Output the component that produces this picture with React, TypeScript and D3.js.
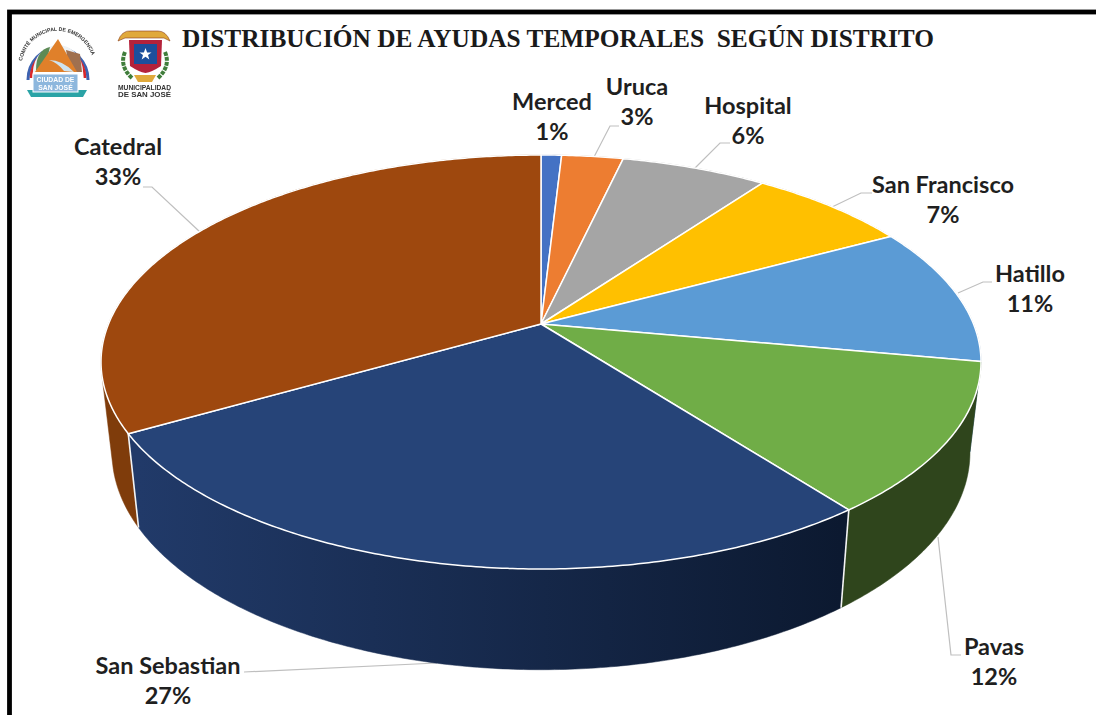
import React from "react";
import * as d3 from "d3";

const categories = ["Merced", "Uruca", "Hospital", "San Francisco", "Hatillo", "Pavas", "San Sebastian", "Catedral"];
const shares = [0.9, 2.7, 6.4, 7.1, 10.8, 11.7, 27.1, 33.3];
const topColors = ["#4472c4", "#ed7d31", "#a5a5a5", "#ffc000", "#5b9bd5", "#70ad47", "#264478", "#9e480e"];
const wallColors = ["#2a4475", "#8c4a1c", "#636363", "#997300", "#2f5f8c", "#2f451c", "url(#ssWall)", "#7f3c0b"];
const labelCenters = [[552, 110], [637, 95], [748, 114], [943, 193], [1030, 282], [994, 655], [168, 674], [118, 155]];
const leaderPaths = [
  [],
  [[594, 157], [610, 126], [619, 126]],
  [[695, 168], [720, 143], [730, 143]],
  [[832, 207], [861, 193], [872, 193]],
  [[958, 293], [983, 282], [992, 282]],
  [[938, 537], [951, 655], [961, 655]],
  [[244, 672], [437, 663]],
  [[200, 232], [152, 187], [143, 187]],
];
const title = "DISTRIBUCIÓN DE AYUDAS TEMPORALES  SEGÚN DISTRITO";

const W = 1096, H = 715;
const apexX = 541, apexY = 324;
const A = 432.5, B = 200, K = 0.1836;
const wallSx = 0.975, wallSy = 1.05, wallY = 412.5;

const project = (a: number, sx = 1, sy = 1, y0 = apexY): [number, number] => {
  const u = Math.sin(a), v = Math.cos(a), w = 1 + K * v;
  return [apexX + (sx * A * u) / w, y0 - (sy * B * v) / w];
};
const topRim = (a: number) => project(a);
const botRim = (a: number) => project(a, wallSx, wallSy, wallY);
const line = d3.line<[number, number]>().x((d) => d[0]).y((d) => d[1]);
const samples = (a0: number, a1: number) => {
  const n = Math.max(2, Math.ceil((a1 - a0) / 0.01));
  const s = d3.scaleLinear().domain([0, n]).range([a0, a1]);
  return d3.range(n + 1).map((i) => s(i));
};

const arcs = d3.pie<number>().sort(null).value((d) => d)(shares);
const sans = "Lato, Carlito, sans-serif";
const lastIndex = arcs.length - 1;
const wallOrder = [lastIndex, ...d3.range(lastIndex)];

function LogoLeft() {
  return (
    <g filter="url(#soft)">
      <defs>
        <path id="logoArc" d="M 22 62 A 36 36 0 0 1 93 60" />
      </defs>
      <text fontFamily="Liberation Sans" fontSize="5.2" fontWeight="700" fill="#333">
        <textPath href="#logoArc" startOffset="1%">COMITÉ MUNICIPAL DE EMERGENCIA</textPath>
      </text>
      <path d="M 28 80 A 30 32 0 1 1 88 80" fill="none" stroke="#3d62b0" strokeWidth="3" />
      <path d="M 31 78 A 27 29 0 1 1 85 78" fill="none" stroke="#d8262c" strokeWidth="2.6" />
      <path d="M 33 72 A 25 27 0 1 1 83 72 Z" fill="#eef2f4" />
      <path d="M 36 70 Q 36 50 50 47 L 44 72 Z" fill="#5d8a55" />
      <path d="M 66 50 L 80 54 L 82 72 L 70 72 Z" fill="#a06f50" />
      <path d="M 58 39 L 77 72 L 35 72 Z" fill="#e0802a" />
      <path d="M 49 60 Q 62 60 74 72 L 64 71 Q 58 63 49 60 Z" fill="#cfe3ef" />
      <path d="M 27 90 L 87 90 L 83 97 L 31 97 Z" fill="#2aa3a6" />
      <rect x="33" y="74" width="45" height="18" fill="#8db7dd" stroke="#fff" strokeWidth="1" />
      <text x="55.5" y="81.5" textAnchor="middle" fontFamily="Liberation Sans" fontSize="6.8" fontWeight="700" fill="#fff">CIUDAD DE</text>
      <text x="55.5" y="89.5" textAnchor="middle" fontFamily="Liberation Sans" fontSize="6.8" fontWeight="700" fill="#fff">SAN JOSÉ</text>
    </g>
  );
}

function LogoRight() {
  return (
    <g filter="url(#soft)">
      <path d="M 118 41 Q 122 30 131 31 L 158 31 Q 166 31 170 41 L 164 38 L 125 38 Z" fill="#e0a93a" stroke="#8a3b1c" strokeWidth="0.6" />
      <path d="M 129 40 L 162 40 L 161 66 Q 152 72 145.5 73 Q 139 72 130 66 Z" fill="#b4203a" />
      <path d="M 134 44 L 157 44 L 157 64 L 134 64 Z" fill="#1d4f9c" />
      <path d="M 145.5 48 L 147.1 52.4 L 151.5 52.4 L 148 55 L 149.3 59.4 L 145.5 56.8 L 141.7 59.4 L 143 55 L 139.5 52.4 L 143.9 52.4 Z" fill="#fff" />
      <path d="M 125 52 Q 119 66 132 78" fill="none" stroke="#3f7d3a" strokeWidth="4" strokeDasharray="4 1" />
      <path d="M 165 52 Q 171 66 158 78" fill="none" stroke="#3f7d3a" strokeWidth="4" strokeDasharray="4 1" />
      <path d="M 134 75 L 156 75 L 152 82 L 138 82 Z" fill="#e0a93a" />
      <text x="144.5" y="89.5" textAnchor="middle" fontFamily="Liberation Sans" fontSize="7.2" fontWeight="700" fill="#333" textLength="53" lengthAdjust="spacingAndGlyphs">MUNICIPALIDAD</text>
      <text x="144.5" y="96.5" textAnchor="middle" fontFamily="Liberation Sans" fontSize="7.2" fontWeight="700" fill="#333" textLength="53" lengthAdjust="spacingAndGlyphs">DE SAN JOSÉ</text>
    </g>
  );
}

export default function App() {
  return (
    <svg width={W} height={H} viewBox={`0 0 ${W} ${H}`} style={{ position: "absolute", left: 0, top: 0, display: "block", background: "#fff" }}>
      <defs>
        <linearGradient id="ssWall" gradientUnits="userSpaceOnUse" x1="139" x2="841" y1="0" y2="0">
          <stop offset="0" stopColor="#213a69" />
          <stop offset="1" stopColor="#0c1930" />
        </linearGradient>
        <filter id="soft" x="-10%" y="-10%" width="120%" height="120%">
          <feGaussianBlur stdDeviation="0.45" />
        </filter>
      </defs>
      <rect x="9.5" y="12" width={W + 20} height={H + 20} fill="none" stroke="#000" strokeWidth="4.8" />
      <LogoLeft />
      <LogoRight />
      <text x="182" y="47" fontFamily="'Liberation Serif', serif" fontWeight="700" fontSize="25.5" fill="#1a1a1a" textLength="752" lengthAdjust="spacingAndGlyphs" style={{ whiteSpace: "pre" }}>{title}</text>

      {leaderPaths.map((p, i) => p.length > 0 && (
        <path key={i} d={line(p as [number, number][]) ?? ""} fill="none" stroke="#bfbfbf" strokeWidth="1.2" />
      ))}

      <g>
        {wallOrder.map((i) => {
          const d = arcs[i];
          const as = samples(d.startAngle, d.endAngle);
          const outline = i === lastIndex
            ? (d3.polygonHull([...as.map(topRim), ...as.map(botRim)]) as [number, number][])
            : [...as.map(topRim), ...as.slice().reverse().map(botRim)];
          return <path key={i} d={(line(outline) ?? "") + "Z"} fill={wallColors[i]} stroke={wallColors[i]} strokeWidth="0.5" />;
        })}
        {[arcs[5].endAngle, arcs[6].endAngle].map((a, i) => (
          <path key={i} d={line([topRim(a), botRim(a)]) ?? ""} stroke="#f4f4f4" strokeWidth="1.6" fill="none" />
        ))}
      </g>

      <g>
        {arcs.map((d, i) => {
          const pts = samples(d.startAngle, d.endAngle).map(topRim);
          return (
            <path key={i} d={(line([[apexX, apexY], ...pts]) ?? "") + "Z"} fill={topColors[i]} stroke="#fff" strokeWidth="1.5" strokeLinejoin="round" />
          );
        })}
      </g>

      <g fontFamily={sans} fontWeight="700" fontSize="23.5" fill="#1f1f1f" textAnchor="middle">
        {categories.map((c, i) => (
          <g key={c}>
            <text x={labelCenters[i][0]} y={labelCenters[i][1]}>{c}</text>
            <text x={labelCenters[i][0]} y={labelCenters[i][1] + 30}>{`${Math.round(shares[i])}%`}</text>
          </g>
        ))}
      </g>
    </svg>
  );
}
